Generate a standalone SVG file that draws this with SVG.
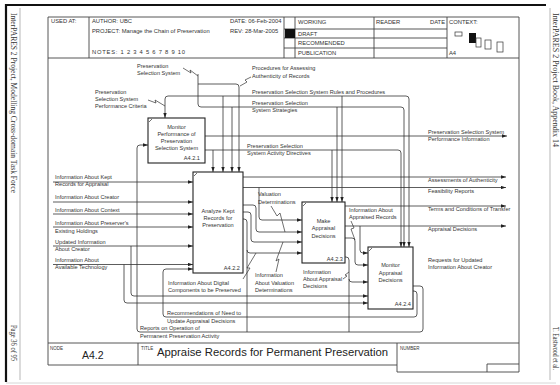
<svg xmlns="http://www.w3.org/2000/svg" width="560" height="385" viewBox="0 0 560 385">
<style>
.ln{fill:none;stroke:#333;stroke-width:0.8}
.sq{fill:none;stroke:#333;stroke-width:0.7}
.fr{fill:none;stroke:#444;stroke-width:0.9}
.bx{fill:#fff;stroke:#222;stroke-width:1.1}
.t{font-family:"Liberation Sans",Arial,sans-serif;font-size:5.6px;fill:#333}
.h{font-family:"Liberation Sans",Arial,sans-serif;font-size:5.8px;fill:#333}
.c{text-anchor:middle}
.e{text-anchor:end}
.m{font-family:"Liberation Serif","Times New Roman",serif;font-size:7.2px;fill:#333}
</style>
<defs>
<marker id="a" viewBox="0 0 6 4" refX="6" refY="2" markerWidth="5" markerHeight="3.6" markerUnits="userSpaceOnUse" orient="auto"><path d="M0,0 L6,2 L0,4 z" fill="#222"/></marker>
</defs>
<rect width="560" height="385" fill="#fff"/>
<g id="page">
<path d="M6,5 H546" stroke="#111" stroke-width="2.2"/>
<path d="M6,4 V382" stroke="#111" stroke-width="2.2"/>
<path d="M20,8 V380" stroke="#888" stroke-width="0.6"/>
<path d="M550,8 V380" stroke="#888" stroke-width="0.6"/>
<path d="M6,383 H556" stroke="#ccc" stroke-width="0.8"/>
<text class="m" transform="translate(11,13) rotate(90)" textLength="180" lengthAdjust="spacingAndGlyphs">InterPARES 2 Project, Modelling Cross-domain Task Force</text>
<text class="m" transform="translate(11,325) rotate(90)" textLength="36" lengthAdjust="spacingAndGlyphs">Page 36 of 95</text>
<text class="m" transform="translate(553,13) rotate(90)" textLength="134" lengthAdjust="spacingAndGlyphs">InterPARES 2 Project Book, Appendix 14</text>
<text class="m" transform="translate(553,327) rotate(90)" textLength="43" lengthAdjust="spacingAndGlyphs">T. Eastwood et al.</text>
</g>
<g id="frame">
<path class="fr" d="M48,17 H519 V372 H397 M48,17 V365 H397"/>
<path class="fr" d="M48,58 H519 M89,17 V58 M284,17 V58 M295,17 V58 M374,17 V58 M447,17 V58 M284,29 H447 M284,38 H447 M284,48 H447"/>
<rect x="285" y="29" width="10" height="9" fill="#111"/>
<path class="fr" d="M48,343 H519 M138,343 V365 M397,343 V372 M487,364 H519 M487,364 V372"/>
<rect x="455" y="32" width="7" height="4" fill="none" stroke="#333" stroke-width="0.7"/>
<rect x="469" y="33" width="7" height="10" fill="#111"/>
<rect x="476" y="38" width="5" height="9" fill="none" stroke="#333" stroke-width="0.7"/>
<rect x="485" y="40" width="6" height="9" fill="none" stroke="#333" stroke-width="0.7"/>
<rect x="497" y="42" width="6" height="10" fill="none" stroke="#333" stroke-width="0.7"/>
<text class="h" x="51" y="23">USED AT:</text>
<text class="h" x="92" y="23">AUTHOR:  UBC</text>
<text class="h" x="92" y="33">PROJECT:  Manage the Chain of Preservation</text>
<text class="h" x="92" y="54" textLength="93">NOTES:  1  2  3  4  5  6  7  8  9  10</text>
<text class="h" x="230" y="23">DATE:  06-Feb-2004</text>
<text class="h" x="230" y="33">REV:    28-Mar-2005</text>
<text class="h" x="298" y="24">WORKING</text>
<text class="h" x="298" y="35.5">DRAFT</text>
<text class="h" x="298" y="45">RECOMMENDED</text>
<text class="h" x="298" y="54.5">PUBLICATION</text>
<text class="h" x="376" y="24">READER</text>
<text class="h e" x="445" y="24">DATE</text>
<text class="h" x="449" y="24">CONTEXT:</text>
<text class="h" x="449" y="55">A4</text>
<text class="h" x="50" y="350" style="font-size:4.5px">NODE</text>
<text x="82" y="359" style="font-family:'Liberation Sans',Arial,sans-serif;font-size:10.5px;fill:#222">A4.2</text>
<text class="h" x="141" y="350" style="font-size:4.5px">TITLE</text>
<text x="157" y="356" style="font-family:'Liberation Sans',Arial,sans-serif;font-size:11.3px;fill:#222">Appraise Records for Permanent Preservation</text>
<text class="h" x="400" y="350" style="font-size:4.5px">NUMBER</text>
</g>
<g id="connectors">
<path class="ln" d="M198,74 V104 Q198,107 201,107 H401 Q404,107 404,110 V247" marker-end="url(#a)"/>
<path class="ln" d="M232,107 V172" marker-end="url(#a)"/>
<path class="ln" d="M337,107 V202" marker-end="url(#a)"/>
<path class="ln" d="M198,84 H236 Q239,84 239,87 V172" marker-end="url(#a)"/>
<path class="ln" d="M168,96 H406 Q409,96 409,99 V247" marker-end="url(#a)"/>
<path class="ln" d="M168,96 Q165,96 165,99 V118" marker-end="url(#a)"/>
<path class="ln" d="M223,96 V172" marker-end="url(#a)"/>
<path class="ln" d="M342,96 V202" marker-end="url(#a)"/>
<path class="ln" d="M205,150 H398 Q401,150 401,153 V247" marker-end="url(#a)"/>
<path class="ln" d="M213,150 V172" marker-end="url(#a)"/>
<path class="ln" d="M332,150 V202" marker-end="url(#a)"/>
<path class="ln" d="M205,136 H507" marker-end="url(#a)"/>
<path class="ln" d="M53,182 H193" marker-end="url(#a)"/>
<path class="ln" d="M53,202 H193" marker-end="url(#a)"/>
<path class="ln" d="M53,214 H193" marker-end="url(#a)"/>
<path class="ln" d="M53,227 H193" marker-end="url(#a)"/>
<path class="ln" d="M53,246 H193" marker-end="url(#a)"/>
<path class="ln" d="M131,246 V293 Q131,296 134,296 H368" marker-end="url(#a)"/>
<path class="ln" d="M53,264.5 H193" marker-end="url(#a)"/>
<path class="ln" d="M124,264.5 V300 Q124,303 127,303 H368" marker-end="url(#a)"/>
<path class="ln" d="M413,291 H414 Q417,291 417,294 V314 Q417,317 414,317 H166 Q163,317 163,314 V272 Q163,269 166,269 H193" marker-end="url(#a)"/>
<path class="ln" d="M413,286 H420 Q423,286 423,289 V329 Q423,332 420,332 H140 Q137,332 137,329 V148 Q137,145 140,145 H148" marker-end="url(#a)"/>
<path class="ln" d="M243,177 H506" marker-end="url(#a)"/>
<path class="ln" d="M243,187.5 H506" marker-end="url(#a)"/>
<path class="ln" d="M259,187.5 V217 Q259,220 262,220 H302" marker-end="url(#a)"/>
<path class="ln" d="M243,205 H253 Q256,205 256,208 V229 Q256,232 259,232 H302" marker-end="url(#a)"/>
<path class="ln" d="M243,212 H248 Q251,212 251,215 V239 Q251,242 254,242 H302" marker-end="url(#a)"/>
<path class="ln" d="M243,219 H244 Q247,219 247,222 V250 Q247,253 250,253 H302" marker-end="url(#a)"/>
<path class="ln" d="M247,250 V332"/>
<path class="ln" d="M345,206 H506" marker-end="url(#a)"/>
<path class="ln" d="M345,226 H506" marker-end="url(#a)"/>
<path class="ln" d="M360,226 V250 Q360,253 363,253 H368" marker-end="url(#a)"/>
<path class="ln" d="M345,238 H352 Q355,238 355,241 V262 Q355,265 358,265 H368" marker-end="url(#a)"/>
<path class="ln" d="M345,257 H346 Q349,257 349,260 V332"/>
<path class="ln" d="M349,279 Q349,282 352,282 H368" marker-end="url(#a)"/>
<path class="sq" d="M183,68 L191,73 L190,70 L198,76"/>
<path class="sq" d="M148,100 L156,103 L155,100 L165,106"/>
<path class="sq" d="M251,77 L245,80 L247,82 L240,86"/>
<path class="sq" d="M271,206 L277,216 L280,213 L285,232"/>
<path class="sq" d="M276,272 L279,259 L276,261 L283,242"/>
<path class="sq" d="M243,279 L250,268 L247,268 L256,253"/>
<path class="sq" d="M351,221 L354,228 L351,229 L355,240"/>
<path class="sq" d="M343,279 L347,276 L345,275 L349,272"/>
</g>
<g id="labels">
<text class="t" x="137" y="68">Preservation</text>
<text class="t" x="137" y="75">Selection System</text>
<text class="t" x="95" y="94">Preservation</text>
<text class="t" x="95" y="101">Selection System</text>
<text class="t" x="95" y="108">Performance Criteria</text>
<text class="t" x="252" y="70">Procedures for Assessing</text>
<text class="t" x="252" y="78">Authenticity of Records</text>
<text class="t" x="252" y="94">Preservation Selection System Rules and Procedures</text>
<text class="t" x="252" y="105">Preservation Selection</text>
<text class="t" x="252" y="112">System Strategies</text>
<text class="t" x="247" y="148">Preservation Selection</text>
<text class="t" x="247" y="155">System Activity Directives</text>
<text class="t" x="428" y="134">Preservation Selection System</text>
<text class="t" x="428" y="141">Performance Information</text>
<text class="t" x="428" y="182">Assessments of Authenticity</text>
<text class="t" x="428" y="193">Feasibility Reports</text>
<text class="t" x="428" y="211">Terms and Conditions of Transfer</text>
<text class="t" x="428" y="231">Appraisal Decisions</text>
<text class="t" x="428" y="262">Requests for Updated</text>
<text class="t" x="428" y="269">Information About Creator</text>
<text class="t" x="349" y="212">Information About</text>
<text class="t" x="349" y="219">Appraised Records</text>
<text class="t" x="55" y="179">Information About Kept</text>
<text class="t" x="55" y="186">Records for Appraisal</text>
<text class="t" x="55" y="199">Information About Creator</text>
<text class="t" x="55" y="212">Information About Context</text>
<text class="t" x="55" y="225">Information About Preserver's</text>
<text class="t" x="55" y="233">Existing Holdings</text>
<text class="t" x="55" y="244">Updated Information</text>
<text class="t" x="55" y="251">About Creator</text>
<text class="t" x="55" y="262">Information About</text>
<text class="t" x="55" y="269">Available Technology</text>
<text class="t" x="258" y="196">Valuation</text>
<text class="t" x="258" y="204">Determinations</text>
<text class="t" x="168" y="285">Information About Digital</text>
<text class="t" x="168" y="292">Components to be Preserved</text>
<text class="t" x="255" y="277">Information</text>
<text class="t" x="255" y="285">About Valuation</text>
<text class="t" x="255" y="292">Determinations</text>
<text class="t" x="303" y="274">Information</text>
<text class="t" x="303" y="281">About Appraisal</text>
<text class="t" x="303" y="288">Decisions</text>
<text class="t" x="167" y="315">Recommendations of Need to</text>
<text class="t" x="167" y="323">Update Appraisal Decisions</text>
<text class="t" x="140" y="330">Reports on Operation of</text>
<text class="t" x="140" y="338">Permanent Preservation Activity</text>
</g>
<g id="A421">
<rect class="bx" x="148" y="118" width="57" height="45"/>
<path class="sq" d="M149,122 L152,119"/>
<text class="t c" x="176.5" y="129">Monitor</text>
<text class="t c" x="176.5" y="136">Performance of</text>
<text class="t c" x="176.5" y="143">Preservation</text>
<text class="t c" x="176.5" y="150">Selection System</text>
<text class="t e" x="200" y="160">A4.2.1</text>
</g>
<g id="A422">
<rect class="bx" x="193" y="172" width="50" height="101"/>
<path class="sq" d="M194,176 L197,173"/>
<text class="t c" x="218" y="213">Analyze Kept</text>
<text class="t c" x="218" y="220">Records for</text>
<text class="t c" x="218" y="227">Preservation</text>
<text class="t e" x="240" y="270">A4.2.2</text>
</g>
<g id="A423">
<rect class="bx" x="302" y="202" width="43" height="61"/>
<path class="sq" d="M303,206 L306,203"/>
<text class="t c" x="323.5" y="223">Make</text>
<text class="t c" x="323.5" y="230">Appraisal</text>
<text class="t c" x="323.5" y="238">Decisions</text>
<text class="t e" x="343" y="261">A4.2.3</text>
</g>
<g id="A424">
<rect class="bx" x="368" y="247" width="45" height="62"/>
<path class="sq" d="M369,251 L372,248"/>
<text class="t c" x="390.5" y="267">Monitor</text>
<text class="t c" x="390.5" y="275">Appraisal</text>
<text class="t c" x="390.5" y="282">Decisions</text>
<text class="t e" x="411" y="306">A4.2.4</text>
</g>
</svg>
